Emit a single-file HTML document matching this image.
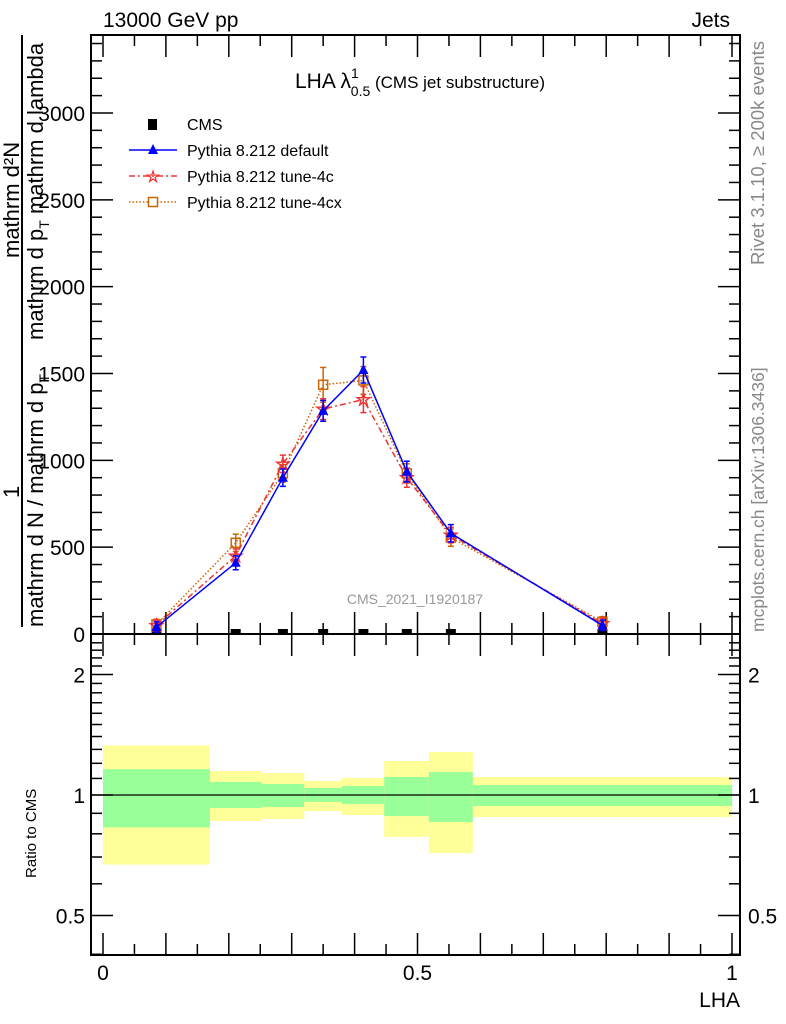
<!DOCTYPE html>
<html><head><meta charset="utf-8"><style>
body{margin:0;background:#fff}
svg{display:block;font-family:"Liberation Sans",sans-serif}
</style></head><body>
<svg id="c" width="786" height="1024" viewBox="0 0 786 1024">
<text x="103" y="27" font-size="21">13000 GeV pp</text>
<text x="730" y="27" font-size="21" text-anchor="end">Jets</text>
<text x="420" y="88" font-size="21" text-anchor="middle">LHA λ<tspan font-size="14" dy="-10">1</tspan><tspan font-size="14" dx="-8" dy="18">0.5</tspan><tspan font-size="17" dy="-8"> (CMS jet substructure)</tspan></text>
<text transform="translate(764,265) rotate(-90)" font-size="18.5" fill="#888">Rivet 3.1.10, ≥ 200k events</text>
<text transform="translate(764,632) rotate(-90)" font-size="17.5" fill="#888">mcplots.cern.ch [arXiv:1306.3436]</text>
<text x="415" y="604" font-size="14" fill="#999" text-anchor="middle">CMS_2021_I1920187</text>
<g font-size="22">
<line x1="22" y1="35" x2="22" y2="627" stroke="#000" stroke-width="2"/>
<text transform="translate(19,498) rotate(-90)">1</text>
<text transform="translate(19,258) rotate(-90)">mathrm d²N</text>
<text transform="translate(43,627) rotate(-90)">mathrm d N / mathrm d p<tspan font-size="14" dy="6">T</tspan></text>
<text transform="translate(43,340) rotate(-90)">mathrm d p<tspan font-size="14" dy="6">T</tspan><tspan dy="-6"> mathrm d lambda</tspan></text>
</g>
<text transform="translate(36,878) rotate(-90)" font-size="15">Ratio to CMS</text>
<text x="740" y="1007" font-size="21" text-anchor="end">LHA</text>
<g id="ratio"></g>
<g id="axes"></g>
<g id="series"></g>
<g font-size="16">
<rect x="148" y="119" width="9" height="11" fill="#000"/>
<text x="187" y="130">CMS</text>
<line x1="129" y1="150" x2="177" y2="150" stroke="#00f" stroke-width="1.5"/><path d="M153,144 L158,154 L148,154Z" fill="#00f"/>
<text x="187" y="156">Pythia 8.212 default</text>
<line x1="129" y1="176" x2="177" y2="176" stroke="#e33" stroke-width="1.5" stroke-dasharray="6,3,2,3"/><text x="153" y="182" font-size="16" fill="#e33" stroke="#e33" stroke-width="0.8" text-anchor="middle">☆</text>
<text x="187" y="182">Pythia 8.212 tune-4c</text>
<line x1="129" y1="202" x2="177" y2="202" stroke="#c60" stroke-width="1.5" stroke-dasharray="1.5,2"/><rect x="148.5" y="197.5" width="9" height="9" fill="#fff" stroke="#c60" stroke-width="1.5"/>
<text x="187" y="208">Pythia 8.212 tune-4cx</text>
</g>
</svg>
<script>
const xEdges=[0,0.17,0.252,0.32,0.38,0.447,0.518,0.588,1.0];
const xCenters=[0.085,0.211,0.286,0.35,0.414,0.483,0.553,0.794];
const cmsVals=[0,0,0,0,0,0,0,0];
const defVals=[40,410,900,1285,1520,935,580,50];
const defErr=[30,40,50,60,75,60,50,30];
const t4cVals=[50,450,980,1295,1350,900,570,60];
const t4cErr=[30,40,50,60,75,55,45,30];
const t4cxVals=[55,525,925,1435,1460,925,555,70];
const t4cxErr=[30,50,50,100,80,55,50,30];
const yellowHi=[1.33,1.148,1.135,1.084,1.103,1.216,1.28,1.109];
const yellowLo=[0.67,0.861,0.871,0.912,0.891,0.786,0.716,0.881];
const greenHi=[1.16,1.078,1.065,1.041,1.053,1.109,1.141,1.059];
const greenLo=[0.83,0.928,0.933,0.961,0.950,0.886,0.856,0.939];
const yTicks=[0,500,1000,1500,2000,2500,3000];
const rTicks=[0.5,1,2];
const xTicks=[0,0.5,1];

const NS='http://www.w3.org/2000/svg';
const X=v=>103+629*v;
const Y=v=>634-0.17367*v;
const R=r=>795-120.5*Math.log2(r);
function mk(parent,tag,attrs){const e=document.createElementNS(NS,tag);for(const k in attrs)e.setAttribute(k,attrs[k]);document.getElementById(parent).appendChild(e);return e;}

for(let i=0;i<yellowHi.length;i++){
 let e=mk('ratio','rect',{x:X(xEdges[i]),y:R(yellowHi[i]),width:X(xEdges[i+1])-X(xEdges[i]),height:R(yellowLo[i])-R(yellowHi[i]),fill:'#ffff99'});
 
 
 e=mk('ratio','rect',{x:X(xEdges[i]),y:R(greenHi[i]),width:X(xEdges[i+1])-X(xEdges[i]),height:R(greenLo[i])-R(greenHi[i]),fill:'#99ff99'});
 
 
}
mk('ratio','line',{x1:91,x2:740,y1:R(1),y2:R(1),stroke:'#000','stroke-width':1.2});

let f=mk('axes','rect',{x:91,y:35,width:649,height:599,fill:'none',stroke:'#000','stroke-width':2});


f=mk('axes','rect',{x:91,y:634,width:649,height:321,fill:'none',stroke:'#000','stroke-width':2});


for(let v=0;v<=3400;v+=100){const maj=v%500===0;const l=maj?22:11;
 mk('axes','line',{x1:91,x2:91+l,y1:Y(v),y2:Y(v),stroke:'#000','stroke-width':1.5});
 mk('axes','line',{x1:740,x2:740-l,y1:Y(v),y2:Y(v),stroke:'#000','stroke-width':1.5});}
yTicks.forEach(v=>{const t=mk('axes','text',{x:85,y:Y(v)+8,'font-size':21,'text-anchor':'end'});t.textContent=v;
 
 });
for(let v=0;v<=1.0001;v+=0.05){const maj=Math.abs(v*10-Math.round(v*10))<1e-6;const l=maj?22:11;
 [[634,-1],[35,1],[955,-1],[634,1]].forEach(([b,d])=>mk('axes','line',{x1:X(v),x2:X(v),y1:b,y2:b+d*l,stroke:'#000','stroke-width':1.5}));}
xTicks.forEach(v=>{const t=mk('axes','text',{x:X(v),y:980,'font-size':21,'text-anchor':'middle'});t.textContent=v;
 
 });
for(let r=0.4;r<=2.5;r+=0.1){const maj=[0.5,1,2].some(m=>Math.abs(m-r)<1e-6);const l=maj?22:11;
 mk('axes','line',{x1:91,x2:91+l,y1:R(r),y2:R(r),stroke:'#000','stroke-width':1.5});
 mk('axes','line',{x1:740,x2:740-l,y1:R(r),y2:R(r),stroke:'#000','stroke-width':1.5});}
rTicks.forEach(r=>{[[85,'end'],[748,'start']].forEach(([x,a])=>{const t=mk('axes','text',{x:x,y:R(r)+8,'font-size':21,'text-anchor':a});t.textContent=r;
 
 });});

function series(vals,err,color,dash,marker,name){
 const p=mk('series','polyline',{points:vals.map((v,i)=>X(xCenters[i])+','+Y(v)).join(' '),fill:'none',stroke:color,'stroke-width':1.5,'stroke-dasharray':dash});
 
 
 vals.forEach((v,i)=>{const x=X(xCenters[i]),y=Y(v);
  mk('series','line',{x1:x,x2:x,y1:Y(v+err[i]),y2:Y(v-err[i]),stroke:color,'stroke-width':1.5});
  mk('series','line',{x1:x-3,x2:x+3,y1:Y(v+err[i]),y2:Y(v+err[i]),stroke:color,'stroke-width':1.5});
  mk('series','line',{x1:x-3,x2:x+3,y1:Y(v-err[i]),y2:Y(v-err[i]),stroke:color,'stroke-width':1.5});
  let m;
  if(marker==='tri')m=mk('series','path',{d:`M${x},${y-6}L${x+5},${y+4}L${x-5},${y+4}Z`,fill:color});
  else if(marker==='sq')m=mk('series','rect',{x:x-4.5,y:y-4.5,width:9,height:9,fill:'none',stroke:color,'stroke-width':1.5});
  else{m=mk('series','text',{x:x,y:y+6,'font-size':18,fill:color,stroke:color,'stroke-width':0.9,'text-anchor':'middle'});m.textContent='☆';}
  
  
 });
}
cmsVals.forEach((v,i)=>{const r=mk('series','rect',{x:X(xCenters[i])-5,y:Y(v)-5,width:10,height:6,fill:'#000'});
 
 });
series(t4cxVals,t4cxErr,'#c60','1.5,2','sq','tune-4cx');
series(t4cVals,t4cErr,'#e33','6,3,2,3','star','tune-4c');
series(defVals,defErr,'#00f','','tri','default');
</script>
</body></html>
